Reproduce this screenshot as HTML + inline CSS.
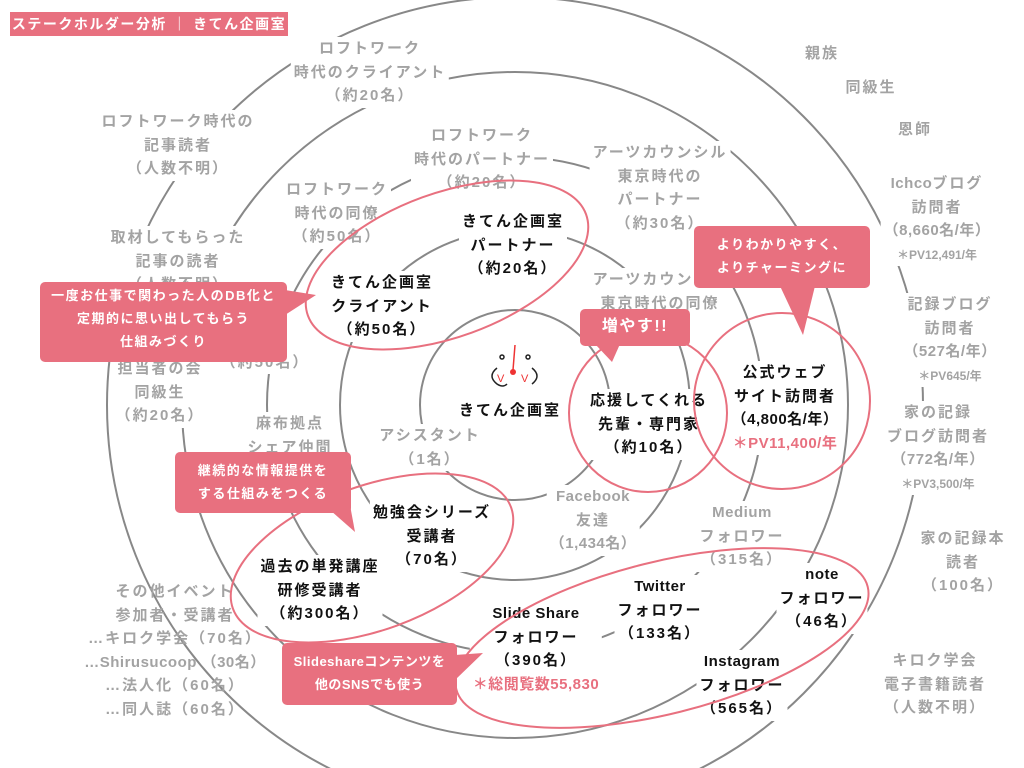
<!DOCTYPE html>
<html style="width:1024px;height:768px;overflow:hidden"><head><meta charset="utf-8"><style>
body{margin:0;width:1024px;height:768px;overflow:hidden;background:#fff;position:relative;font-family:"Liberation Sans","Noto Sans CJK JP",sans-serif;}
svg{position:absolute;left:0;top:0;overflow:hidden}
.l{position:absolute;transform:translateX(-50%);text-align:center;white-space:nowrap;font-size:15px;line-height:23.5px;font-weight:bold;letter-spacing:2px;background:#fff;padding:0 3px}
.g{color:#a3a3a3}
.k{color:#111}
.r{color:#e8707f}
.s{font-size:12px;line-height:20px;letter-spacing:0}
.e{letter-spacing:0.5px}
.c{position:absolute;background:#e8707f;color:#fff;font-weight:bold;text-align:center;border-radius:5px;font-size:13px;letter-spacing:1.5px;white-space:nowrap}
</style></head><body>
<svg width="1024" height="768">
<g fill="none" stroke="#888" stroke-width="2">
<circle cx="515" cy="405" r="95"/>
<circle cx="515" cy="405" r="175"/>
<circle cx="515" cy="405" r="248"/>
<circle cx="515" cy="405" r="333"/>
<circle cx="515" cy="405" r="408"/>
</g>
</svg>

<div class="l g" style="left:370px;top:37px">ロフトワーク<br>時代のクライアント<br>（約20名）</div>
<div class="l g" style="left:178px;top:110px">ロフトワーク時代の<br>記事読者<br>（人数不明）</div>
<div class="l g" style="left:178px;top:226px">取材してもらった<br>記事の読者<br>（人数不明）</div>
<div class="l g" style="left:482px;top:124px">ロフトワーク<br>時代のパートナー<br>（約20名）</div>
<div class="l g" style="left:337px;top:178px">ロフトワーク<br>時代の同僚<br>（約50名）</div>
<div class="l g" style="left:660px;top:141px">アーツカウンシル<br>東京時代の<br>パートナー<br>（約30名）</div>
<div class="l g" style="left:660px;top:268px">アーツカウンシル<br>東京時代の同僚</div>
<div class="l g" style="left:822px;top:42px">親族</div>
<div class="l g" style="left:871px;top:76px">同級生</div>
<div class="l g" style="left:915px;top:118px">恩師</div>
<div class="l g" style="left:937px;top:172px"><span class="e">Ichco</span>ブログ<br>訪問者<br><span class="e">（8,660名/年）</span><br><span class="s">＊PV12,491/年</span></div>
<div class="l g" style="left:950px;top:293px">記録ブログ<br>訪問者<br><span class="e">（527名/年）</span><br><span class="s">＊PV645/年</span></div>
<div class="l g" style="left:938px;top:401px">家の記録<br>ブログ訪問者<br><span class="e">（772名/年）</span><br><span class="s">＊PV3,500/年</span></div>
<div class="l g" style="left:963px;top:527px">家の記録本<br>読者<br>（100名）</div>
<div class="l g" style="left:935px;top:649px">キロク学会<br>電子書籍読者<br>（人数不明）</div>
<div class="l g" style="left:593px;top:485px"><span class="e">Facebook</span><br>友達<br><span class="e">（1,434名）</span></div>
<div class="l g" style="left:742px;top:501px"><span class="e">Medium</span><br>フォロワー<br>（315名）</div>
<div class="l g" style="left:430px;top:424px">アシスタント<br>（1名）</div>
<div class="l g" style="left:290px;top:412px">麻布拠点<br>シェア仲間</div>
<div class="l g" style="left:160px;top:357px">担当者の会<br>同級生<br>（約20名）</div>
<div class="l g" style="left:265px;top:327px">先<br>（約50名）</div>
<div class="l g" style="left:175px;top:580px;background:transparent">その他イベント<br>参加者・受講者<br>…キロク学会（70名）<br><span class="e">…Shirusucoop （30名）</span><br>…法人化（60名）<br>…同人誌（60名）</div>

<div class="l k" style="left:513px;top:210px">きてん企画室<br>パートナー<br>（約20名）</div>
<div class="l k" style="left:382px;top:271px">きてん企画室<br>クライアント<br>（約50名）</div>
<div class="l k" style="left:510px;top:399px">きてん企画室</div>
<div class="l k" style="left:649px;top:389px">応援してくれる<br>先輩・専門家<br>（約10名）</div>
<div class="l k" style="left:785px;top:361px">公式ウェブ<br>サイト訪問者<br><span class="e">（4,800名/年）</span><br><span class="r e">＊PV11,400/年</span></div>
<div class="l k" style="left:432px;top:501px">勉強会シリーズ<br>受講者<br>（70名）</div>
<div class="l k" style="left:320px;top:555px">過去の単発講座<br>研修受講者<br>（約300名）</div>
<div class="l k" style="left:536px;top:602px"><span class="e">Slide Share</span><br>フォロワー<br>（390名）<br><span class="r e">＊総閲覧数55,830</span></div>
<div class="l k" style="left:660px;top:575px"><span class="e">Twitter</span><br>フォロワー<br>（133名）</div>
<div class="l k" style="left:822px;top:563px"><span class="e">note</span><br>フォロワー<br>（46名）</div>
<div class="l k" style="left:742px;top:650px"><span class="e">Instagram</span><br>フォロワー<br>（565名）</div>

<svg width="1024" height="768">
<g fill="none" stroke="#e8707f" stroke-width="2">
<ellipse cx="447" cy="265" rx="148" ry="72" transform="rotate(-20 447 265)"/>
<circle cx="648" cy="413" r="79"/>
<circle cx="782" cy="401" r="88"/>
<ellipse cx="372" cy="558" rx="148" ry="72" transform="rotate(-20 372 558)"/>
<ellipse cx="662" cy="638" rx="212" ry="76" transform="rotate(-14 662 638)"/>
</g>
<g fill="none" stroke="#222" stroke-width="1.5">
<path d="M497 368 q-10 8 0 16 q6 4 10 0"/>
<path d="M532 368 q10 8 0 16"/>
<circle cx="502" cy="357" r="2"/>
<circle cx="528" cy="357" r="2"/>
</g>
<path d="M515 345 L513 370" stroke="#e33" stroke-width="1.5"/>
<circle cx="513" cy="372" r="3" fill="#e33"/>
<text x="497" y="382" fill="#e33" font-size="11" font-family="Liberation Sans">V</text>
<text x="521" y="382" fill="#e33" font-size="11" font-family="Liberation Sans">V</text>
<g fill="#e8707f">
<polygon points="285,290 316,295 285,315"/>
<polygon points="780,286 803,335 815,286"/>
<polygon points="595,344 612,362 620,344"/>
<polygon points="330,510 355,532 350,505"/>
<polygon points="455,655 483,653 455,680"/>
</g>
</svg>

<div class="c" style="left:10px;top:12px;width:278px;height:24px;line-height:24px;font-size:14px;border-radius:0">ステークホルダー分析 ｜ きてん企画室</div>
<div class="c" style="left:40px;top:282px;width:247px;height:80px;line-height:23px;padding-top:2px;box-sizing:border-box">一度お仕事で関わった人のDB化と<br>定期的に思い出してもらう<br>仕組みづくり</div>
<div class="c" style="left:694px;top:226px;width:176px;height:62px;line-height:23px;padding-top:7px;box-sizing:border-box">よりわかりやすく、<br>よりチャーミングに</div>
<div class="c" style="left:580px;top:309px;width:110px;height:37px;line-height:35px;font-size:16px">増やす!!</div>
<div class="c" style="left:175px;top:452px;width:176px;height:61px;line-height:23px;padding-top:7px;box-sizing:border-box">継続的な情報提供を<br>する仕組みをつくる</div>
<div class="c" style="left:282px;top:643px;width:175px;height:62px;line-height:23px;padding-top:7px;box-sizing:border-box;letter-spacing:0.5px">Slideshareコンテンツを<br>他のSNSでも使う</div>
</body></html>
